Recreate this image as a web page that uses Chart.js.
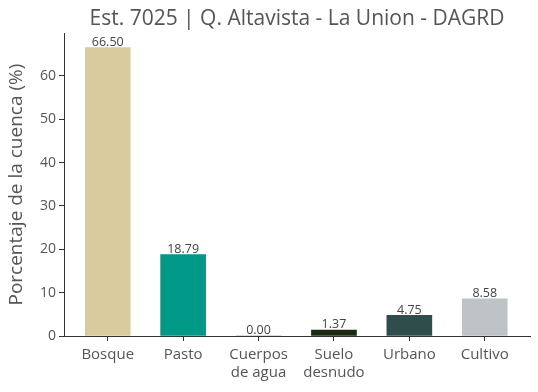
<!DOCTYPE html>
<html>
  <head>
    <title>Est. 7025 | Q. Altavista - La Union - DAGRD</title>
    <script src="https://cdn.jsdelivr.net/npm/chart.js"></script>
    <style>
      html, body { margin: 0; padding: 0; background: #fff; }
      .chart-container { width: 538px; height: 392px; }
    </style>
  </head>
  <body>
    <div class="chart-container">
      <canvas id="myChart"></canvas>
    </div>

    <script>
      const categorias = ["Bosque", "Pasto", ["Cuerpos", "de agua"], ["Suelo", "desnudo"], "Urbano", "Cultivo"];
      const porcentajes = [66.5, 18.79, 0.0, 1.37, 4.75, 8.58];
      const colores = ["#d9cb9d", "#009886", "#3a78b5", "#1b2b12", "#2e4d4b", "#bec3c6"];
      const marcasY = [0, 10, 20, 30, 40, 50, 60];

      const gris = "#555555";
      const fuente = "'Open Sans', 'Noto Sans', sans-serif";

      // etiquetas de valor encima de cada barra
      const etiquetasValor = {
        id: "etiquetasValor",
        afterDatasetsDraw(chart) {
          const ctx = chart.ctx;
          const meta = chart.getDatasetMeta(0);
          ctx.save();
          ctx.font = "12.5px " + fuente;
          ctx.fillStyle = "#444";
          ctx.textAlign = "center";
          ctx.textBaseline = "bottom";
          meta.data.forEach((bar, i) => {
            ctx.fillText(porcentajes[i].toFixed(2), bar.x, bar.y + 1);
          });
          ctx.restore();
        },
      };

      new Chart(document.getElementById("myChart"), {
        type: "bar",
        data: {
          datasets: [
            {
              data: porcentajes.map((v, i) => ({ x: i, y: v })),
              backgroundColor: colores,
              barThickness: 45,
            },
          ],
        },
        options: {
          responsive: true,
          maintainAspectRatio: false,
          animation: false,
          layout: { padding: { left: 0, right: 8, top: 0, bottom: 0 } },
          plugins: {
            legend: { display: false },
            tooltip: { enabled: false },
            title: {
              display: true,
              fullSize: false,
              text: "Est. 7025 | Q. Altavista - La Union - DAGRD",
              color: gris,
              font: { family: fuente, size: 21, weight: "normal" },
              padding: { top: 6, bottom: 2 },
            },
          },
          scales: {
            x: {
              type: "linear",
              min: -0.58,
              max: 5.6,
              offset: false,
              afterFit: (s) => { s.height = 56; },
              afterBuildTicks: (s) => { s.ticks = categorias.map((c, i) => ({ value: i })); },
              grid: { offset: false, drawOnChartArea: false, drawTicks: true, tickLength: 5, color: "#333" },
              border: { display: true, color: "#333" },
              ticks: {
                includeBounds: false,
                color: gris,
                font: { family: fuente, size: 15, lineHeight: 1.25 },
                padding: 4,
                maxRotation: 0,
                callback: (v) => categorias[v],
              },
            },
            y: {
              min: 0,
              max: 69.83,
              afterFit: (s) => { s.width = 64; },
              afterBuildTicks: (s) => { s.ticks = marcasY.map((v) => ({ value: v })); },
              grid: { drawOnChartArea: false, drawTicks: true, tickLength: 5, color: "#333" },
              border: { display: true, color: "#333" },
              ticks: { includeBounds: false, color: gris, font: { family: fuente, size: 14 }, padding: 3 },
              title: {
                display: true,
                text: "Porcentaje de la cuenca (%)",
                color: gris,
                font: { family: fuente, size: 19 },
                padding: { top: 5, bottom: 2 },
              },
            },
          },
        },
        plugins: [etiquetasValor],
      });
    </script>
  </body>
</html>
